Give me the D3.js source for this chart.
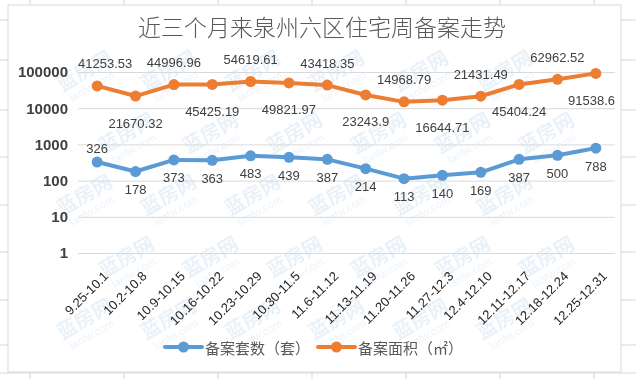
<!DOCTYPE html>
<html><head><meta charset="utf-8">
<script src="https://cdn.jsdelivr.net/npm/d3@7/dist/d3.min.js"></script>
<style>html,body{margin:0;padding:0;background:#fff;}svg{display:block;}</style>
</head><body>
<svg id="chart" width="636" height="379"></svg>
<script>
const categories = ["9.25-10.1","10.2-10.8","10.9-10.15","10.16-10.22","10.23-10.29","10.30-11.5","11.6-11.12","11.13-11.19","11.20-11.26","11.27-12.3","12.4-12.10","12.11-12.17","12.18-12.24","12.25-12.31"];
const units = [326,178,373,363,483,439,387,214,113,140,169,387,500,788];
const areas = [41253.53,21670.32,44996.96,45425.19,54619.61,49821.97,43418.35,23243.9,14968.79,16644.71,21431.49,45404.24,62962.52,91538.6];
const yTicks = [1,10,100,1000,10000,100000];
const seriesNames = ["备案套数（套）","备案面积（㎡）"];
const title = "近三个月来泉州六区住宅周备案走势";

const W = 636, H = 379;
const svg = d3.select("#chart");
const CJK = "'Noto Sans CJK SC','Noto Sans',sans-serif";
const LAT = "'Liberation Sans',Arial,sans-serif";
const blue = "#5B9BD5", orange = "#ED7D31";

// spreadsheet cell lines behind chart
const bg = svg.append("g");
d3.range(30, W, 94).forEach(x => bg.append("line").attr("x1", x).attr("x2", x).attr("y1", 0).attr("y2", H).attr("stroke", "#d6d6d6"));
[20, 60, 110, 157, 205, 252, 300, 345, 373].forEach(y => bg.append("line").attr("x1", 0).attr("x2", W).attr("y1", y).attr("y2", y).attr("stroke", "#d6d6d6"));
const chartBox = {x: 8, y: 5, w: 613, h: 367};
svg.append("rect").attr("x", chartBox.x).attr("y", chartBox.y).attr("width", chartBox.w).attr("height", chartBox.h).attr("fill", "#fff").attr("stroke", "#d9d9d9");

// watermarks (only fully inside the chart box)
const wm = svg.append("g").attr("opacity", 0.4);
for (let r = 0; r < 6; r++) {
  for (let c = -1; c < 9; c++) {
    const x = 20 + c * 84 + (r % 2) * 42, y = 30 + r * 62;
    const g = wm.append("g").attr("transform", `translate(${x},${y}) rotate(-30)`);
    g.append("text").attr("x", 0).attr("y", 0).attr("font-family", CJK).attr("font-weight", "bold").attr("font-size", 20).attr("fill", "#c9dcef").text("蓝房网");
    g.append("text").attr("x", 4).attr("y", 14).attr("font-family", LAT).attr("font-size", 11).attr("fill", "#cfe0f0").text("lanfw.com");
    const b = g.node().getBoundingClientRect();
    if (b.left < chartBox.x + 1 || b.top < chartBox.y + 1 || b.right > chartBox.x + chartBox.w - 1 || b.bottom > chartBox.y + chartBox.h - 1) g.remove();
  }
}

const plot = {left: 78, right: 615, top: 72, bottom: 253};
const x = d3.scaleBand().domain(categories).range([plot.left, plot.right]);
const cx = d => x(d) + x.bandwidth() / 2;
const y = d3.scaleLog().domain([1, 100000]).range([plot.bottom, plot.top]);

// title
svg.append("text").attr("x", 322).attr("y", 36).attr("text-anchor", "middle")
  .attr("font-family", CJK).attr("font-size", 23).attr("font-weight", 300).attr("fill", "#595959").text(title);

// y axis / gridlines
const yAxis = d3.axisLeft(y).tickValues(yTicks).tickSize(-(plot.right - plot.left)).tickFormat(d3.format("d")).tickPadding(10);
const ga = svg.append("g").attr("transform", `translate(${plot.left},0)`).call(yAxis);
ga.select(".domain").remove();
ga.selectAll(".tick line").attr("stroke", "#d9d9d9");
ga.selectAll(".tick text").attr("font-family", LAT).attr("font-size", 15).attr("font-weight", "bold").attr("fill", "#404040");

// x axis labels
const xAxis = d3.axisBottom(x).tickSize(0).tickPadding(0);
const gx = svg.append("g").attr("transform", `translate(0,${plot.bottom})`).call(xAxis);
gx.select(".domain").remove();
gx.selectAll(".tick text").attr("font-family", LAT).attr("font-size", 13).attr("fill", "#262626")
  .attr("text-anchor", "end").attr("dy", 0).attr("y", 0)
  .attr("transform", "translate(12,24) rotate(-45)");

// lines
const line = d3.line().x((d, i) => cx(categories[i])).y(d => y(d));
function drawSeries(vals, color) {
  svg.append("path").datum(vals).attr("d", line).attr("fill", "none").attr("stroke", color)
    .attr("stroke-width", 4).attr("stroke-linejoin", "round").attr("stroke-linecap", "round");
  svg.append("g").selectAll("circle").data(vals).join("circle")
    .attr("cx", (d, i) => cx(categories[i])).attr("cy", d => y(d)).attr("r", 5.5).attr("fill", color);
}
drawSeries(areas, orange);
drawSeries(units, blue);

// data labels
function drawLabels(vals, sideFn, offAbove, offBelow) {
  const g = svg.append("g");
  vals.forEach((v, i) => {
    const t = g.append("text").attr("font-family", LAT).attr("font-size", 13).attr("fill", "#404040")
      .attr("text-anchor", "middle").attr("dominant-baseline", "central").text(String(v));
    const above = sideFn(i);
    let px = cx(categories[i]);
    const py = y(v) + (above ? offAbove : offBelow);
    t.attr("x", px).attr("y", py);
    const bb = t.node().getBBox();
    if (bb.x < plot.left) px += plot.left - bb.x;
    if (bb.x + bb.width > plot.right) px -= bb.x + bb.width - plot.right;
    t.attr("x", px);
  });
}
drawLabels(areas, i => i % 2 === 0, -22, 27);
drawLabels(units, i => i === 0, -14, 18);

// legend
const legend = [{name: seriesNames[0], color: blue, x: 165}, {name: seriesNames[1], color: orange, x: 318}];
const lg = svg.append("g");
legend.forEach(l => {
  lg.append("line").attr("x1", l.x).attr("x2", l.x + 37).attr("y1", 347).attr("y2", 347).attr("stroke", l.color).attr("stroke-width", 4).attr("stroke-linecap", "round");
  lg.append("circle").attr("cx", l.x + 18.5).attr("cy", 347).attr("r", 5.5).attr("fill", l.color);
  lg.append("text").attr("x", l.x + 40).attr("y", 347).attr("dominant-baseline", "central")
    .attr("font-family", CJK).attr("font-size", 15).attr("fill", "#595959").text(l.name);
});
</script>
</body></html>
